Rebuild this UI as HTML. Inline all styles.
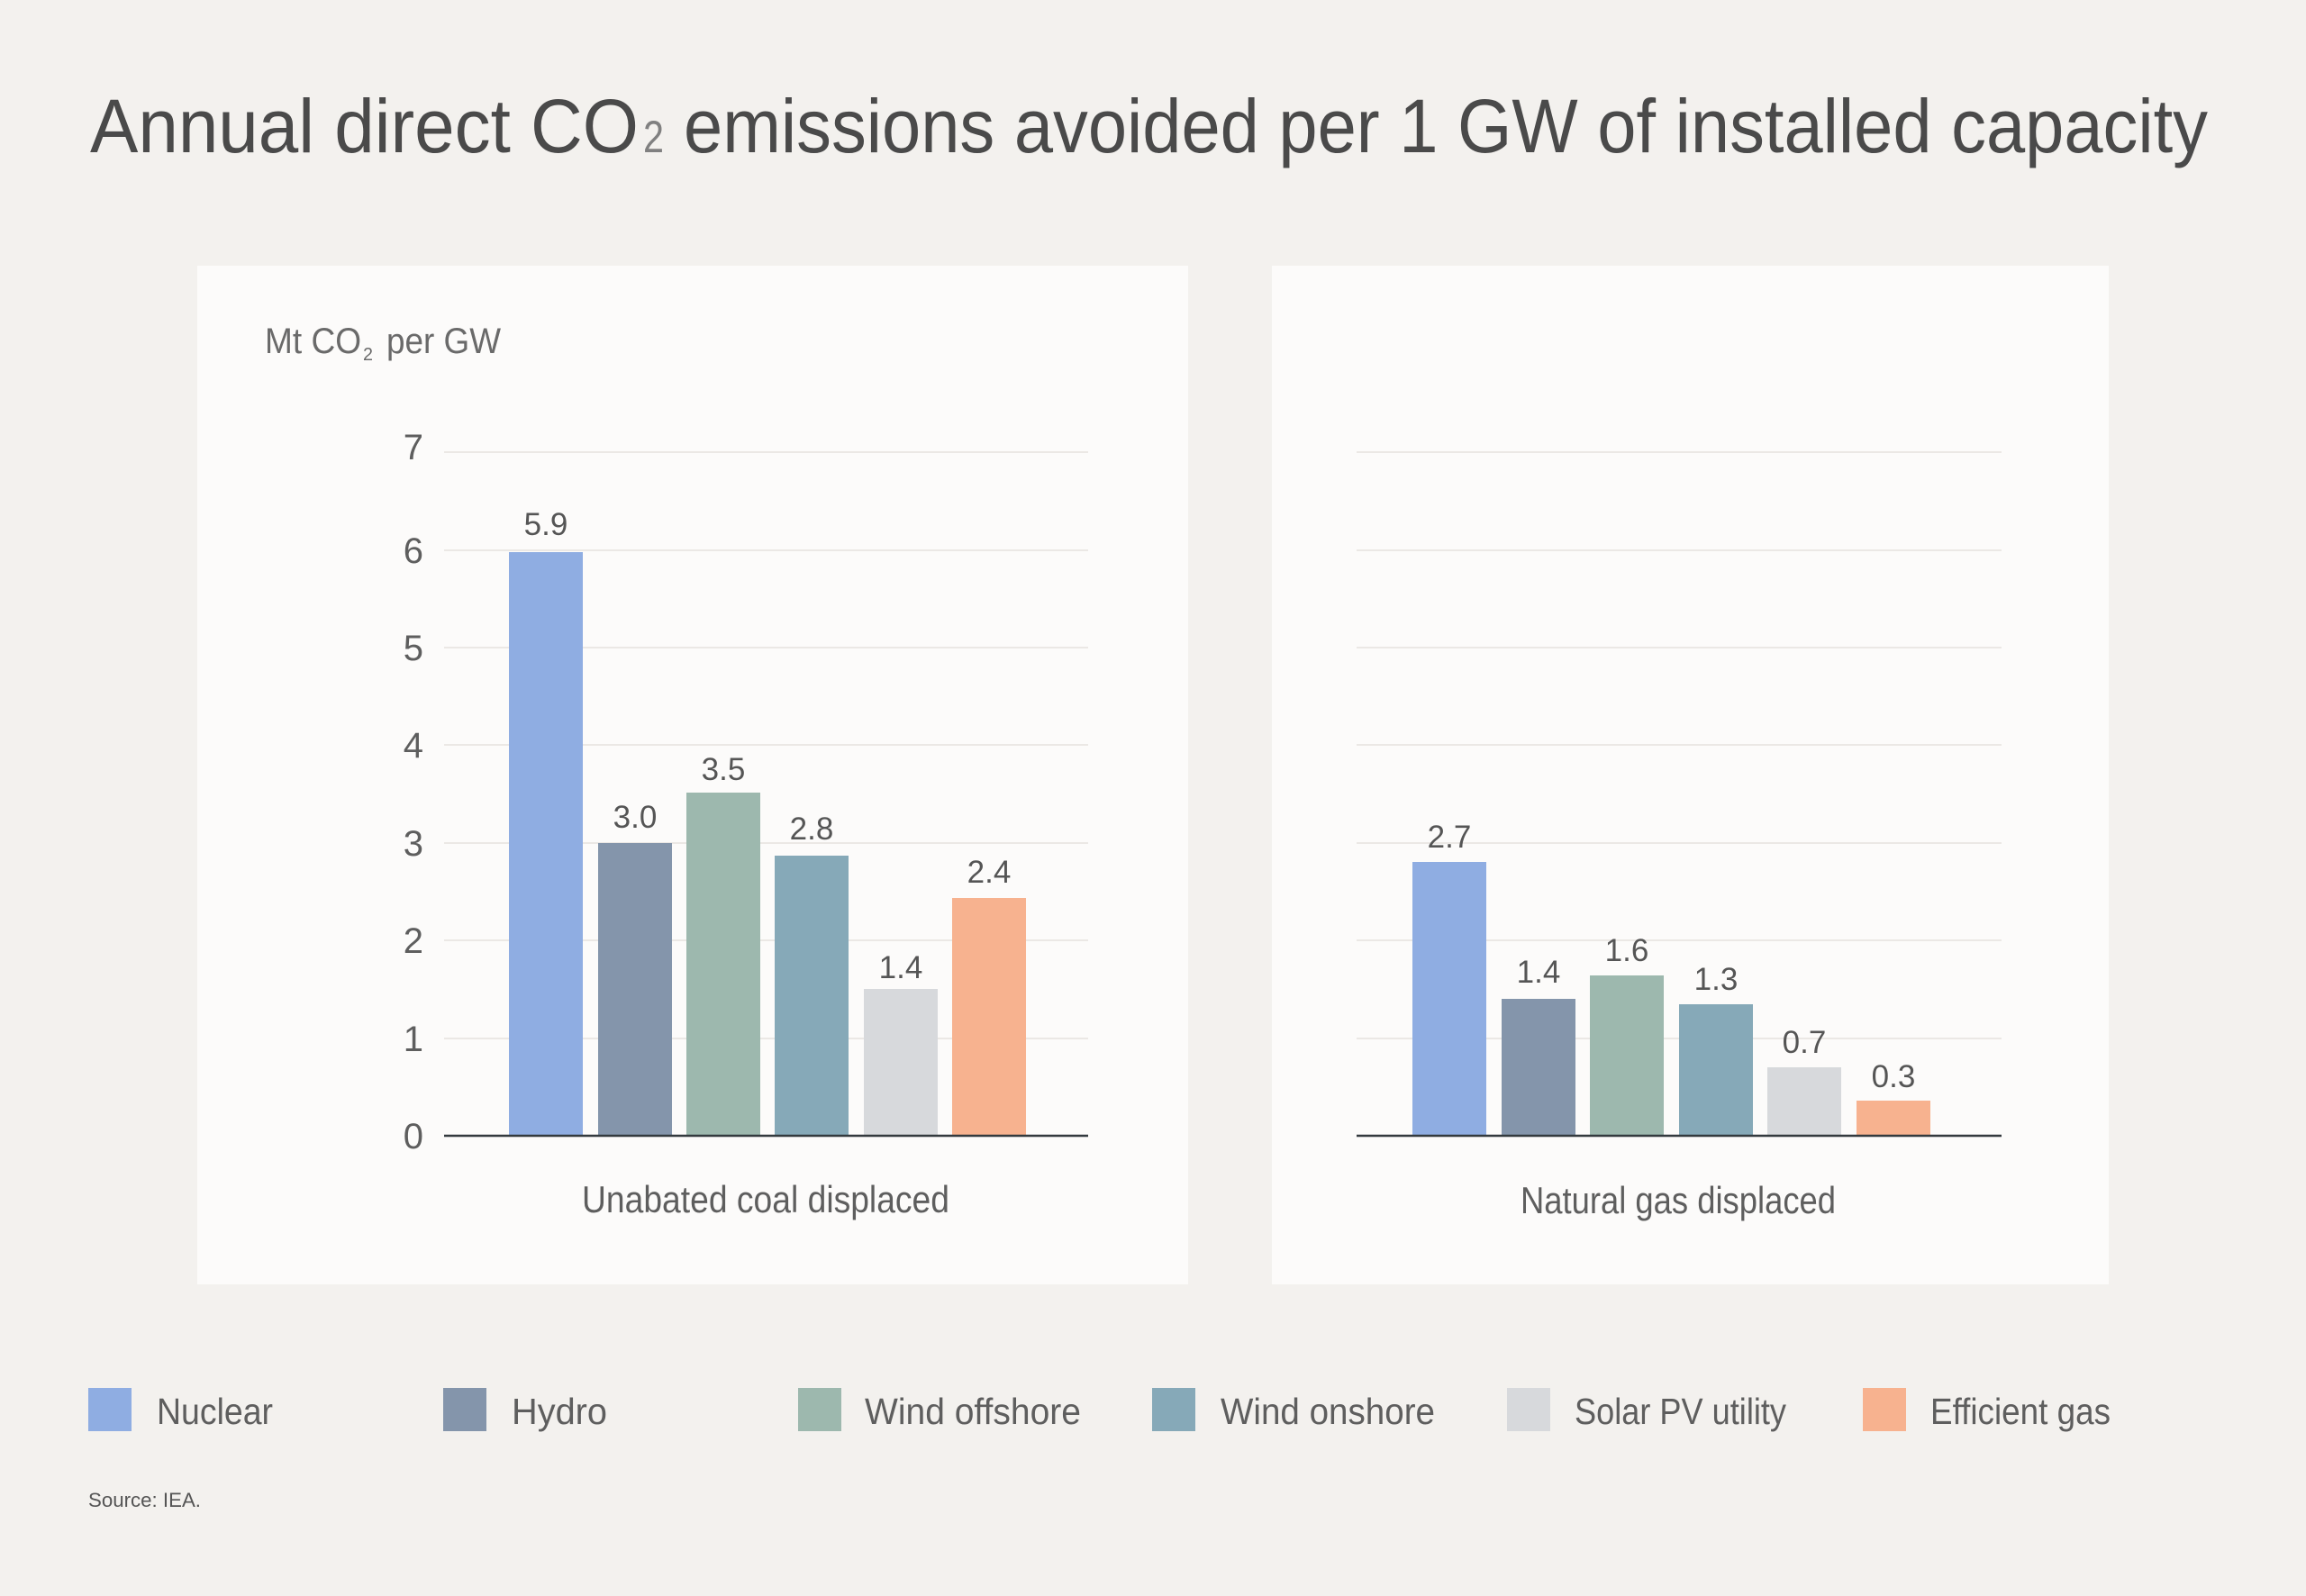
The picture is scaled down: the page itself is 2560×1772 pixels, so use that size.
<!DOCTYPE html>
<html>
<head>
<meta charset="utf-8">
<style>
  html, body { margin: 0; padding: 0; background: #f3f1ee; }
  svg { display: block; }
  text { font-family: "Liberation Sans", sans-serif; }
</style>
</head>
<body>
<svg width="2560" height="1772" viewBox="0 0 2560 1772" xmlns="http://www.w3.org/2000/svg">
  <rect x="0" y="0" width="2560" height="1772" fill="#f3f1ee"/>

  <!-- Title -->
  <text x="100" y="169" font-size="84" fill="#4a4a4a" textLength="609" lengthAdjust="spacingAndGlyphs">Annual direct CO</text>
  <text x="714" y="169" font-size="50" fill="#808080" textLength="23" lengthAdjust="spacingAndGlyphs">2</text>
  <text x="759" y="169" font-size="84" fill="#4a4a4a" textLength="1692" lengthAdjust="spacingAndGlyphs">emissions avoided per 1 GW of installed capacity</text>

  <!-- Panels -->
  <rect x="219" y="295" width="1100" height="1131" fill="#fcfbfa"/>
  <rect x="1412" y="295" width="929" height="1131" fill="#fcfbfa"/>

  <!-- Y-axis label -->
  <text x="294" y="392" font-size="40" fill="#6a6a6a" textLength="107" lengthAdjust="spacingAndGlyphs">Mt CO</text>
  <text x="403" y="400" font-size="20" fill="#6a6a6a" textLength="11" lengthAdjust="spacingAndGlyphs">2</text>
  <text x="429" y="392" font-size="40" fill="#6a6a6a" textLength="127" lengthAdjust="spacingAndGlyphs">per GW</text>

  <!-- Gridlines -->
  <g stroke="#ebe8e5" stroke-width="2">
    <line x1="493" y1="502" x2="1208" y2="502"/>
    <line x1="493" y1="611" x2="1208" y2="611"/>
    <line x1="493" y1="719" x2="1208" y2="719"/>
    <line x1="493" y1="827" x2="1208" y2="827"/>
    <line x1="493" y1="936" x2="1208" y2="936"/>
    <line x1="493" y1="1044" x2="1208" y2="1044"/>
    <line x1="493" y1="1153" x2="1208" y2="1153"/>
    <line x1="1506" y1="502" x2="2222" y2="502"/>
    <line x1="1506" y1="611" x2="2222" y2="611"/>
    <line x1="1506" y1="719" x2="2222" y2="719"/>
    <line x1="1506" y1="827" x2="2222" y2="827"/>
    <line x1="1506" y1="936" x2="2222" y2="936"/>
    <line x1="1506" y1="1044" x2="2222" y2="1044"/>
    <line x1="1506" y1="1153" x2="2222" y2="1153"/>
  </g>

  <!-- Tick labels -->
  <g font-size="40" fill="#5e5e5e" text-anchor="end">
    <text x="470" y="510">7</text>
    <text x="470" y="625">6</text>
    <text x="470" y="733">5</text>
    <text x="470" y="841">4</text>
    <text x="470" y="950">3</text>
    <text x="470" y="1058">2</text>
    <text x="470" y="1167">1</text>
    <text x="470" y="1275">0</text>
  </g>

  <!-- Bars panel 1 -->
  <rect x="565" y="613" width="82" height="648" fill="#8fade2"/>
  <rect x="664" y="936" width="82" height="325" fill="#8495ab"/>
  <rect x="762" y="880" width="82" height="381" fill="#9db8ae"/>
  <rect x="860" y="950" width="82" height="311" fill="#86a9b8"/>
  <rect x="959" y="1098" width="82" height="163" fill="#d7d9dc"/>
  <rect x="1057" y="997" width="82" height="264" fill="#f7b28f"/>

  <!-- Bars panel 2 -->
  <rect x="1568" y="957" width="82" height="304" fill="#8fade2"/>
  <rect x="1667" y="1109" width="82" height="152" fill="#8495ab"/>
  <rect x="1765" y="1083" width="82" height="178" fill="#9db8ae"/>
  <rect x="1864" y="1115" width="82" height="146" fill="#86a9b8"/>
  <rect x="1962" y="1185" width="82" height="76" fill="#d7d9dc"/>
  <rect x="2061" y="1222" width="82" height="39" fill="#f7b28f"/>

  <!-- Axis lines -->
  <line x1="493" y1="1261" x2="1208" y2="1261" stroke="#333a3e" stroke-width="2.5"/>
  <line x1="1506" y1="1261" x2="2222" y2="1261" stroke="#333a3e" stroke-width="2.5"/>

  <!-- Value labels -->
  <g font-size="35" fill="#555" text-anchor="middle">
    <text x="606" y="594">5.9</text>
    <text x="705" y="919">3.0</text>
    <text x="803" y="866">3.5</text>
    <text x="901" y="932">2.8</text>
    <text x="1000" y="1086">1.4</text>
    <text x="1098" y="980">2.4</text>

    <text x="1609" y="941">2.7</text>
    <text x="1708" y="1091">1.4</text>
    <text x="1806" y="1067">1.6</text>
    <text x="1905" y="1099">1.3</text>
    <text x="2003" y="1169">0.7</text>
    <text x="2102" y="1207">0.3</text>
  </g>

  <!-- Category labels -->
  <text x="646" y="1346" font-size="42" fill="#5e5e5e" textLength="408" lengthAdjust="spacingAndGlyphs">Unabated coal displaced</text>
  <text x="1688" y="1347" font-size="42" fill="#5e5e5e" textLength="350" lengthAdjust="spacingAndGlyphs">Natural gas displaced</text>

  <!-- Legend -->
  <rect x="98" y="1541" width="48" height="48" fill="#8fade2"/>
  <text x="174" y="1581" font-size="41" fill="#5e5e5e" textLength="129" lengthAdjust="spacingAndGlyphs">Nuclear</text>

  <rect x="492" y="1541" width="48" height="48" fill="#8495ab"/>
  <text x="568" y="1581" font-size="41" fill="#5e5e5e" textLength="106" lengthAdjust="spacingAndGlyphs">Hydro</text>

  <rect x="886" y="1541" width="48" height="48" fill="#9db8ae"/>
  <text x="960" y="1581" font-size="41" fill="#5e5e5e" textLength="240" lengthAdjust="spacingAndGlyphs">Wind offshore</text>

  <rect x="1279" y="1541" width="48" height="48" fill="#86a9b8"/>
  <text x="1355" y="1581" font-size="41" fill="#5e5e5e" textLength="238" lengthAdjust="spacingAndGlyphs">Wind onshore</text>

  <rect x="1673" y="1541" width="48" height="48" fill="#d7d9dc"/>
  <text x="1748" y="1581" font-size="41" fill="#5e5e5e" textLength="235" lengthAdjust="spacingAndGlyphs">Solar PV utility</text>

  <rect x="2068" y="1541" width="48" height="48" fill="#f7b28f"/>
  <text x="2143" y="1581" font-size="41" fill="#5e5e5e" textLength="200" lengthAdjust="spacingAndGlyphs">Efficient gas</text>

  <!-- Source -->
  <text x="98" y="1673" font-size="22" fill="#555" textLength="125" lengthAdjust="spacingAndGlyphs">Source: IEA.</text>
</svg>
</body>
</html>
